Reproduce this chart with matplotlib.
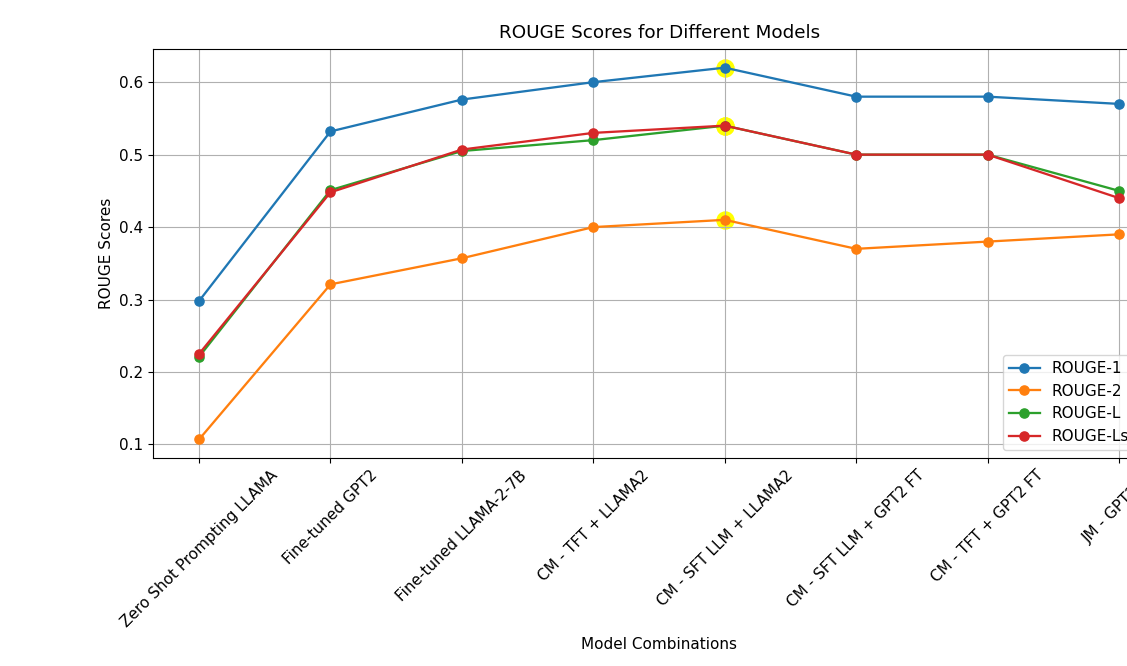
import matplotlib
matplotlib.use('Agg')
import matplotlib.pyplot as plt

models = ['Zero Shot Prompting LLAMA', 'Fine-tuned GPT2', 'Fine-tuned LLAMA-2-7B',
          'CM - TFT + LLAMA2', 'CM - SFT LLM + LLAMA2', 'CM - SFT LLM + GPT2 FT',
          'CM - TFT + GPT2 FT', 'JM - GPT2 FT']
rouge1 = [0.298, 0.532, 0.576, 0.60, 0.62, 0.58, 0.58, 0.57]
rouge2 = [0.107, 0.321, 0.357, 0.40, 0.41, 0.37, 0.38, 0.39]
rougeL = [0.221, 0.451, 0.505, 0.52, 0.54, 0.50, 0.50, 0.45]
rougeLs = [0.225, 0.448, 0.507, 0.53, 0.54, 0.50, 0.50, 0.44]
best = 4  # highlighted model

# reference is a slightly enlarged screenshot, so scale fonts/lines ~1.1
plt.rcParams['font.size'] = 11
plt.rcParams['lines.linewidth'] = 1.65
plt.rcParams['lines.markersize'] = 6.6

fig = plt.figure(figsize=(11.27, 6.66), dpi=100)
# axes run past the right edge, the reference is cropped
ax = fig.add_axes([0.1358, 0.3123, 0.898, 0.614])

ax.plot(models, rouge1, marker='o', label='ROUGE-1')
ax.plot(models, rouge2, marker='o', label='ROUGE-2')
ax.plot(models, rougeL, marker='o', label='ROUGE-L')
ax.plot(models, rougeLs, marker='o', label='ROUGE-Ls')

# yellow glow behind the best points
for vals in [rouge1, rouge2, rougeL, rougeLs]:
    ax.scatter([models[best]], [vals[best]], s=150, color='yellow', zorder=1.5)

ax.set_title('ROUGE Scores for Different Models', fontsize=13.2, pad=8)
ax.set_xlabel('Model Combinations', labelpad=5)
ax.set_ylabel('ROUGE Scores')
plt.setp(ax.get_xticklabels(), rotation=45)
ax.grid(True)
ax.legend(loc='lower left', bbox_to_anchor=(1003 / 1127, 216 / 666),
          bbox_transform=fig.transFigure, borderaxespad=0)

fig.savefig('out.png', dpi=100)
